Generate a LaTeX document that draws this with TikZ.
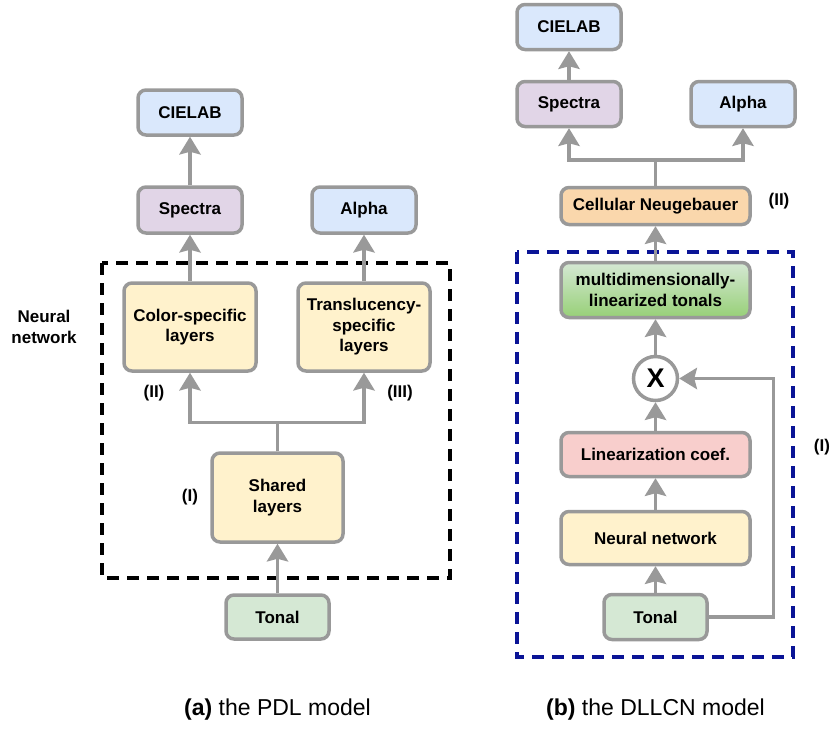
\documentclass[tikz,border=0pt]{standalone}
\usepackage{fontspec}
\setmainfont{Liberation Sans}
\usetikzlibrary{positioning,arrows.meta}

\definecolor{linegray}{HTML}{999999}
\definecolor{fillblue}{HTML}{DAE8FC}
\definecolor{fillpurple}{HTML}{E1D5E7}
\definecolor{fillyellow}{HTML}{FFF2CC}
\definecolor{fillgreen}{HTML}{D5E8D4}
\definecolor{fillgreendark}{HTML}{97D077}
\definecolor{fillorange}{HTML}{FAD7AC}
\definecolor{fillred}{HTML}{F8CECC}
\definecolor{framenavy}{HTML}{0A1496}

\newcommand\boxfont{\bfseries\fontsize{17}{20.5}\selectfont}

\tikzset{
  blk/.style={rectangle,rounded corners=8pt,draw=linegray,line width=3.5pt,
    font=\boxfont,align=center,inner sep=0pt},
  lbl/.style={font=\boxfont,align=center,inner sep=0pt},
  arr/.style={draw=linegray,line width=3.5pt,
    -{Stealth[length=18pt,width=22pt,inset=3pt,fill=linegray,line width=0pt]}},
  frame/.style={line width=4pt,dash pattern=on 12pt off 8pt}
}

\begin{document}
\begin{tikzpicture}[on grid,x=1pt,y=1pt]
   \useasboundingbox (0,0) rectangle (830,-736);
   % (a) the PDL model
   \node[blk,fill=fillgreen,minimum width=103pt,minimum height=44pt] (tonalA) at (277.5,-617) {Tonal};
   \node[blk,fill=fillyellow,minimum width=131pt,minimum height=89pt] (sharedA) [above=119.5pt of tonalA] {Shared\\layers};
   \node[blk,fill=fillyellow,minimum width=132pt,minimum height=88pt] (colorA) [above left=170.5pt and 87.5pt of sharedA] {Color-specific\\layers};
   \node[blk,fill=fillyellow,minimum width=132pt,minimum height=88pt] (transA) [right=174pt of colorA] {Translucency-\\specific\\layers};
   \node[blk,fill=fillpurple,minimum width=104pt,minimum height=46pt] (spectraA) [above=117pt of colorA] {Spectra};
   \node[blk,fill=fillblue,minimum width=104pt,minimum height=45pt] (cielabA) [above=97.5pt of spectraA] {CIELAB};
   \node[blk,fill=fillblue,minimum width=104pt,minimum height=46pt] (alphaA) [above=117pt of transA] {Alpha};
   \node[lbl] (netA) [left=146pt of colorA] {Neural\\network};
   \node[lbl] (labIIA) [below left=66pt and 36pt of colorA] {(II)};
   \node[lbl] (labIIIA) [below right=66pt and 36pt of transA] {(III)};
   \node[lbl] (labIA) [left=87.5pt of sharedA] {(I)};
   \node[font=\fontsize{23}{26}\selectfont,inner sep=0pt] (capA) [below=93pt of tonalA] {\textbf{(a)} the PDL model};

   \draw[frame] (102,-263) rectangle (450,-578);

   \path[arr] (tonalA) edge (sharedA)
              (colorA) edge (spectraA)
              (spectraA) edge (cielabA)
              (transA) edge (alphaA);
   \draw[arr] (sharedA.north) -- ++(0,29) -| (colorA.south);
   \draw[arr] (sharedA.north) -- ++(0,29) -| (transA.south);

   % (b) the DLLCN model
   \node[blk,fill=fillgreen,minimum width=103pt,minimum height=45pt] (tonalB) [right=378pt of tonalA] {Tonal};
   \node[blk,fill=fillyellow,minimum width=189pt,minimum height=53pt] (nnB) [above=79pt of tonalB] {Neural network};
   \node[blk,fill=fillred,minimum width=189pt,minimum height=44pt] (linB) [above=83.5pt of nnB] {Linearization coef.};
   \node[circle,draw=linegray,line width=3.5pt,fill=white,minimum size=44pt,inner sep=0pt,
         font=\bfseries\fontsize{27}{30}\selectfont] (mulB) [above=76pt of linB] {X};
   \node[blk,top color=fillgreen,bottom color=fillgreendark,minimum width=189pt,minimum height=55pt] (mltB) [above=88.5pt of mulB] {multidimensionally-\\linearized tonals};
   \node[blk,fill=fillorange,minimum width=189pt,minimum height=37pt] (cnB) [above=84pt of mltB] {Cellular Neugebauer};
   \node[blk,fill=fillpurple,minimum width=104pt,minimum height=45pt] (spectraB) [above left=102pt and 86.5pt of cnB] {Spectra};
   \node[blk,fill=fillblue,minimum width=104pt,minimum height=45pt] (alphaB) [right=174pt of spectraB] {Alpha};
   \node[blk,fill=fillblue,minimum width=104pt,minimum height=45pt] (cielabB) [above=77pt of spectraB] {CIELAB};
   \node[lbl] (labIIB) [above right=4.5pt and 123.5pt of cnB] {(II)};
   \node[lbl] (labIB) [above right=7pt and 166.5pt of linB] {(I)};
   \node[font=\fontsize{23}{26}\selectfont,inner sep=0pt] (capB) [below=93pt of tonalB] {\textbf{(b)} the DLLCN model};

   \draw[frame,draw=framenavy] (517,-252) rectangle (793,-657);

   \path[arr] (tonalB) edge (nnB)
              (nnB) edge (linB)
              (linB) edge (mulB)
              (mulB) edge (mltB)
              (mltB) edge (cnB)
              (spectraB) edge (cielabB);
   \draw[arr] (cnB.north) -- ++(0,26) -| (spectraB.south);
   \draw[arr] (cnB.north) -- ++(0,26) -| (alphaB.south);
   \draw[arr] (tonalB.east) -- ++(64.5,0) |- (mulB.east);
\end{tikzpicture}
\end{document}
